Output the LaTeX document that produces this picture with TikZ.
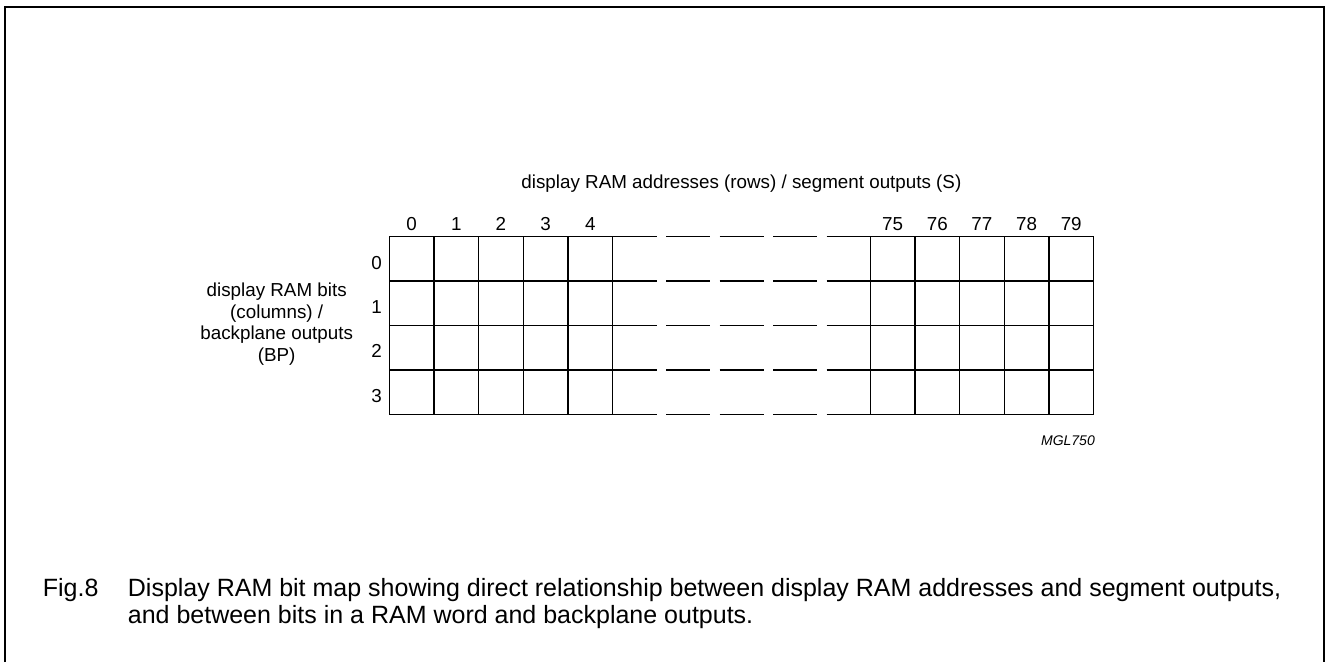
\documentclass[tikz,border=0pt]{standalone}
\usepackage{fontspec}
\setmainfont{Liberation Sans}
\begin{document}
\begin{tikzpicture}[x=1pt,y=-1pt,
  gridline/.style={line width=1.3pt, black},
  gapline/.style={line width=1.3pt, black, dash pattern=on 44pt off 9.5pt},
  framestyle/.style={line width=2pt, black},
  lab/.style={font=\fontsize{18.8}{21.8}\selectfont, inner sep=0pt, anchor=base},
  captionstyle/.style={font=\fontsize{25}{26.7}\selectfont, inner sep=0pt, anchor=north west, align=left},
  refstyle/.style={font=\fontsize{14}{16}\itshape, inner sep=0pt, anchor=base east}
]
\useasboundingbox (0,0) rectangle (1326,662);
% frame (open at the bottom)
\draw[framestyle] (4.5,662) -- (4.5,7) -- (1324,7) -- (1324,662);

% geometry
\def\xl{389.3}\def\xm{612.55}\def\xr{870.3}\def\xe{1093.55}
\def\cw{44.65}\def\yt{236.3}\def\rh{44.6}

% vertical lines
\foreach \i in {0,...,5}{
  \draw[gridline] ({\xl+\i*\cw},\yt) -- ({\xl+\i*\cw},{\yt+4*\rh});
  \draw[gridline] ({\xr+\i*\cw},\yt) -- ({\xr+\i*\cw},{\yt+4*\rh});
}
% horizontal lines
\foreach \k in {0,...,4}{
  \draw[gridline] (\xl,{\yt+\k*\rh}) -- (\xm,{\yt+\k*\rh});
  \draw[gapline] (\xm,{\yt+\k*\rh}) -- (\xr,{\yt+\k*\rh});
  \draw[gridline] (\xr,{\yt+\k*\rh}) -- (\xe,{\yt+\k*\rh});
}

% column numbers
\foreach \n [count=\i from 0] in {0,1,2,3,4}
  \node[lab] (c\n) at ({\xl+(\i+0.5)*\cw},230) {\n};
\foreach \n [count=\i from 0] in {75,76,77,78,79}
  \node[lab] (c\n) at ({\xr+(\i+0.5)*\cw},230) {\n};
% row numbers
\foreach \n in {0,1,2,3}
  \node[lab] (r\n) at (376.7,{269.3+\n*44.3}) {\n};

% titles
\node[lab] (title) at (741.4,188.3) {display RAM addresses (rows) / segment outputs (S)};
\node[lab, align=center, anchor=north] (side) at (276.7,282.5)
  {display RAM bits\\(columns) /\\backplane outputs\\(BP)};
\node[refstyle] (mgl) at (1095,445) {MGL750};

% caption
\node[captionstyle] (fig) at (42.7,578) {\strut Fig.8};
\node[captionstyle] (captext) at (127.7,578)
  {\strut Display RAM bit map showing direct relationship between display RAM addresses and segment outputs,\\
   and between bits in a RAM word and backplane outputs.};
\end{tikzpicture}
\end{document}
